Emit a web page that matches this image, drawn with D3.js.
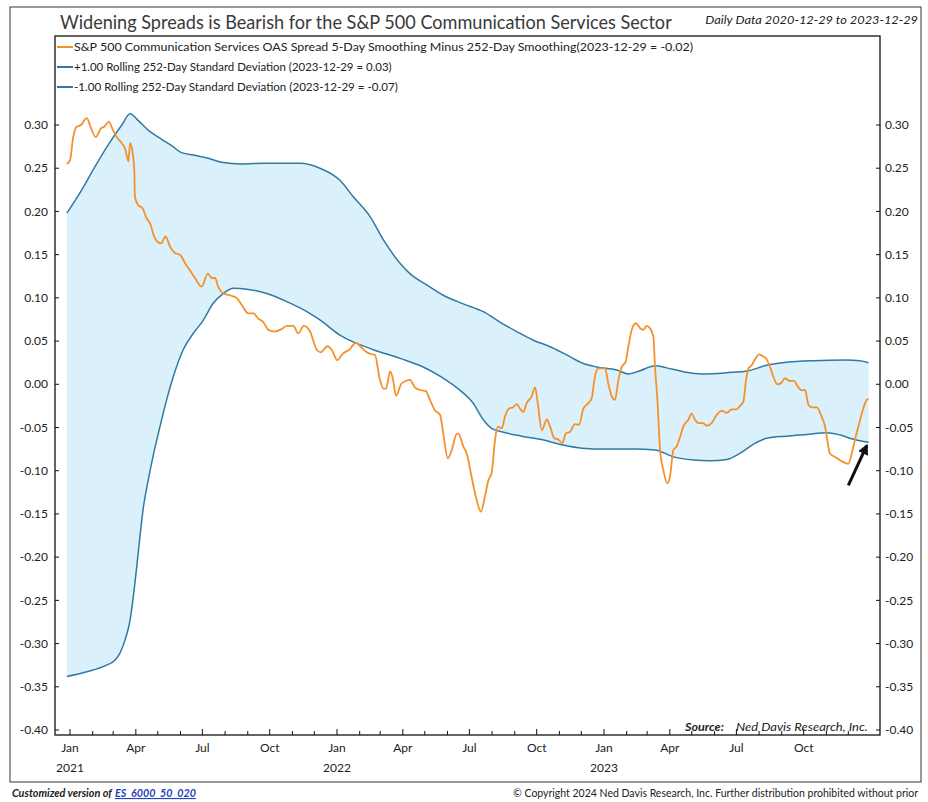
<!DOCTYPE html>
<html>
<head>
<meta charset="utf-8">
<script src="https://cdn.jsdelivr.net/npm/d3@7"></script>
<style>
body { margin: 0; background: #fff; }
svg { display: block; }
text { font-family: Lato, "Noto Sans", sans-serif; }
</style>
</head>
<body>
<div id="chart"></div>
<script>
// decimal year, value
var spread = [
  [2020.991, 0.255], [2021.000, 0.259], [2021.012, 0.286], [2021.025, 0.298], [2021.041, 0.300],
  [2021.063, 0.308], [2021.079, 0.296], [2021.096, 0.286], [2021.116, 0.296], [2021.128, 0.298],
  [2021.146, 0.304], [2021.158, 0.296], [2021.175, 0.286], [2021.194, 0.279], [2021.206, 0.273],
  [2021.219, 0.258], [2021.225, 0.279], [2021.233, 0.271], [2021.241, 0.246], [2021.243, 0.217],
  [2021.256, 0.207], [2021.271, 0.204], [2021.287, 0.192], [2021.300, 0.186], [2021.318, 0.169],
  [2021.341, 0.163], [2021.358, 0.171], [2021.375, 0.159], [2021.393, 0.152], [2021.412, 0.150],
  [2021.431, 0.140], [2021.449, 0.132], [2021.468, 0.123], [2021.493, 0.113], [2021.516, 0.128],
  [2021.531, 0.123], [2021.543, 0.123], [2021.555, 0.113], [2021.574, 0.105], [2021.599, 0.103],
  [2021.624, 0.100], [2021.643, 0.092], [2021.668, 0.082], [2021.687, 0.082], [2021.705, 0.076],
  [2021.724, 0.072], [2021.743, 0.063], [2021.768, 0.061], [2021.793, 0.064], [2021.812, 0.0675],
  [2021.836, 0.0675], [2021.855, 0.059], [2021.876, 0.0675], [2021.899, 0.061], [2021.924, 0.040],
  [2021.939, 0.037], [2021.964, 0.044], [2021.980, 0.040], [2022.001, 0.028], [2022.024, 0.036],
  [2022.046, 0.040], [2022.071, 0.048], [2022.093, 0.042], [2022.117, 0.036], [2022.142, 0.034],
  [2022.161, 0.005], [2022.174, -0.005], [2022.184, -0.005], [2022.199, 0.015], [2022.209, 0.007],
  [2022.221, -0.0135], [2022.242, 0.001], [2022.273, 0.005], [2022.292, -0.0035], [2022.311, -0.0066],
  [2022.333, -0.008], [2022.348, -0.018], [2022.367, -0.030], [2022.386, -0.0355], [2022.398, -0.057],
  [2022.415, -0.0856], [2022.430, -0.076], [2022.448, -0.0575], [2022.455, -0.057], [2022.473, -0.072],
  [2022.486, -0.080], [2022.504, -0.107], [2022.523, -0.134], [2022.539, -0.1474], [2022.554, -0.130],
  [2022.567, -0.111], [2022.579, -0.103], [2022.592, -0.064], [2022.602, -0.049], [2022.617, -0.051],
  [2022.629, -0.0375], [2022.644, -0.028], [2022.660, -0.0266], [2022.673, -0.023], [2022.685, -0.028],
  [2022.698, -0.032], [2022.710, -0.022], [2022.729, -0.014], [2022.742, -0.0035], [2022.752, -0.022],
  [2022.767, -0.053], [2022.786, -0.0405], [2022.798, -0.049], [2022.814, -0.0625], [2022.829, -0.064],
  [2022.844, -0.068], [2022.857, -0.057], [2022.873, -0.055], [2022.891, -0.046], [2022.906, -0.047],
  [2022.923, -0.028], [2022.941, -0.022], [2022.954, -0.016], [2022.966, 0.009], [2022.979, 0.0185],
  [2022.991, 0.0185], [2023.004, 0.0185], [2023.016, 0.001], [2023.029, -0.014], [2023.041, -0.018],
  [2023.054, 0.005], [2023.066, 0.020], [2023.081, 0.026], [2023.091, 0.0435], [2023.104, 0.063],
  [2023.119, 0.0706], [2023.135, 0.065], [2023.147, 0.063], [2023.160, 0.0675], [2023.172, 0.065],
  [2023.185, 0.055], [2023.191, 0.020], [2023.200, -0.018], [2023.210, -0.076], [2023.222, -0.099],
  [2023.237, -0.1146], [2023.247, -0.107], [2023.260, -0.076], [2023.272, -0.072], [2023.285, -0.061],
  [2023.297, -0.049], [2023.316, -0.041], [2023.328, -0.034], [2023.341, -0.041], [2023.353, -0.045],
  [2023.370, -0.045], [2023.385, -0.048], [2023.403, -0.045], [2023.422, -0.0355], [2023.441, -0.0305],
  [2023.460, -0.033], [2023.478, -0.029], [2023.497, -0.029], [2023.512, -0.024], [2023.522, -0.020],
  [2023.532, 0.005], [2023.541, 0.0185], [2023.553, 0.022], [2023.566, 0.029], [2023.581, 0.0347],
  [2023.597, 0.032], [2023.609, 0.029], [2023.622, 0.020], [2023.634, 0.009], [2023.649, 0.000],
  [2023.662, 0.001], [2023.678, 0.007], [2023.694, 0.004], [2023.712, 0.004], [2023.724, -0.002],
  [2023.741, -0.007], [2023.753, -0.0066], [2023.766, -0.024], [2023.778, -0.0266], [2023.797, -0.0266],
  [2023.815, -0.0375], [2023.828, -0.049], [2023.836, -0.064], [2023.846, -0.080], [2023.865, -0.084],
  [2023.884, -0.088], [2023.903, -0.091], [2023.915, -0.092], [2023.928, -0.080], [2023.940, -0.064],
  [2023.956, -0.045], [2023.969, -0.030], [2023.984, -0.018], [2023.991, -0.017]
];

var upperBand = [
  [2020.991, 0.198], [2021.044, 0.225], [2021.094, 0.252], [2021.143, 0.277], [2021.194, 0.300],
  [2021.225, 0.313], [2021.256, 0.305], [2021.293, 0.294], [2021.343, 0.2835], [2021.381, 0.276],
  [2021.418, 0.268], [2021.468, 0.265], [2021.518, 0.2615], [2021.568, 0.257], [2021.643, 0.255],
  [2021.730, 0.2557], [2021.861, 0.2557], [2021.936, 0.250], [2022.011, 0.236], [2022.061, 0.217],
  [2022.124, 0.194], [2022.174, 0.167], [2022.236, 0.140], [2022.273, 0.128], [2022.336, 0.115],
  [2022.398, 0.103], [2022.473, 0.093], [2022.548, 0.084], [2022.610, 0.072], [2022.673, 0.061],
  [2022.735, 0.051], [2022.798, 0.0435], [2022.860, 0.034], [2022.923, 0.024], [2022.973, 0.020],
  [2023.048, 0.0165], [2023.091, 0.012], [2023.135, 0.0157], [2023.191, 0.0215], [2023.235, 0.019],
  [2023.297, 0.0146], [2023.372, 0.012], [2023.460, 0.0134], [2023.541, 0.0157], [2023.609, 0.022],
  [2023.684, 0.0255], [2023.784, 0.0273], [2023.909, 0.028], [2023.958, 0.0273], [2023.991, 0.025]
];

var lowerBand = [
  [2020.991, -0.338], [2021.063, -0.3325], [2021.137, -0.325], [2021.169, -0.319], [2021.187, -0.311],
  [2021.206, -0.296], [2021.225, -0.273], [2021.237, -0.246], [2021.250, -0.211], [2021.262, -0.176],
  [2021.275, -0.142], [2021.293, -0.111], [2021.312, -0.082], [2021.337, -0.049], [2021.362, -0.018],
  [2021.387, 0.009], [2021.424, 0.040], [2021.462, 0.059], [2021.499, 0.074], [2021.537, 0.094],
  [2021.574, 0.105], [2021.612, 0.111], [2021.662, 0.110], [2021.737, 0.105], [2021.812, 0.0956],
  [2021.887, 0.084], [2021.936, 0.0744], [2022.011, 0.057], [2022.061, 0.049], [2022.136, 0.040],
  [2022.236, 0.030], [2022.323, 0.020], [2022.398, 0.007], [2022.461, -0.007], [2022.510, -0.022],
  [2022.548, -0.041], [2022.579, -0.051], [2022.617, -0.055], [2022.692, -0.060], [2022.767, -0.064],
  [2022.842, -0.070], [2022.917, -0.074], [2023.004, -0.075], [2023.116, -0.075], [2023.191, -0.076],
  [2023.260, -0.084], [2023.335, -0.0876], [2023.397, -0.0884], [2023.460, -0.087], [2023.509, -0.080],
  [2023.567, -0.068], [2023.609, -0.0625], [2023.684, -0.060], [2023.760, -0.058], [2023.835, -0.056],
  [2023.884, -0.0587], [2023.934, -0.0636], [2023.991, -0.067]
];

var yTicks = [0.30, 0.25, 0.20, 0.15, 0.10, 0.05, 0.00, -0.05, -0.10, -0.15, -0.20, -0.25, -0.30, -0.35, -0.40];
var quarterLabels = ['Jan', 'Apr', 'Jul', 'Oct'];
var yearLabels = [2021, 2022, 2023];
var legendLabels = [
  'S&P 500 Communication Services OAS Spread 5-Day Smoothing Minus 252-Day Smoothing(2023-12-29 = -0.02)',
  '+1.00 Rolling 252-Day Standard Deviation (2023-12-29 = 0.03)',
  '-1.00 Rolling 252-Day Standard Deviation (2023-12-29 = -0.07)'
];
var arrowFrom = [2023.915, -0.117];
var arrowTo = [2023.984, -0.071];

var ORANGE = '#f5902a';
var BLUE = '#2f7aa3';
var FILL = '#daf0fb';
var INK = '#222';

function toDate(t) {
  var y = Math.floor(t);
  return new Date(Date.UTC(y, 0, 1) + (t - y) * 365 * 86400000);
}

function fmt(v) {
  var s = Math.abs(v).toFixed(2);
  return (v < -0.001 ? '-' : '') + s;
}

// squeeze a text horizontally so it spans `width` px from its anchor
function fitText(sel, x, y, width) {
  sel.attr('x', 0).attr('y', 0);
  var w = sel.node().getComputedTextLength();
  var k = w > 0 ? width / w : 1;
  sel.attr('transform', 'translate(' + x + ',' + y + ') scale(' + k + ',1)');
  return sel;
}

function init() {
  var W = 928, H = 802;
  var left = 55, right = 880, top = 36, bottom = 735;

  var svg = d3.select('#chart').append('svg')
    .attr('width', W).attr('height', H);

  var x = d3.scaleUtc()
    .domain([new Date(Date.UTC(2021, 0, 1)), new Date(Date.UTC(2023, 0, 1))])
    .range([70, 604]);
  var y = d3.scaleLinear().domain([0.30, -0.40]).range([125, 730]);

  // outer frame
  svg.append('rect').attr('x', 10).attr('y', 7).attr('width', 911).attr('height', 775)
    .attr('fill', 'none').attr('stroke', '#333').attr('stroke-width', 1);

  fitText(svg.append('text').attr('font-size', 20).attr('fill', '#3a3a3a')
    .text('Widening Spreads is Bearish for the S&P 500 Communication Services Sector'), 60, 29, 612);
  fitText(svg.append('text').attr('text-anchor', 'end')
    .attr('font-size', 12).attr('font-style', 'italic').attr('fill', INK)
    .text('Daily Data 2020-12-29 to 2023-12-29'), 918, 24, 213);

  svg.append('clipPath').attr('id', 'plotclip')
    .append('rect').attr('x', left).attr('y', top).attr('width', right - left).attr('height', bottom - top);

  var g = svg.append('g').attr('clip-path', 'url(#plotclip)');

  var line = d3.line()
    .x(function (d) { return x(toDate(d[0])); })
    .y(function (d) { return y(d[1]); })
    .curve(d3.curveMonotoneX);

  // band fill: upper forward, lower back
  var bandPts = upperBand.concat(lowerBand.slice().reverse());
  g.append('path')
    .attr('d', d3.line()
      .x(function (d) { return x(toDate(d[0])); })
      .y(function (d) { return y(d[1]); })
      .curve(d3.curveLinearClosed)(bandPts))
    .attr('fill', FILL).attr('stroke', 'none');

  g.append('path').attr('d', line(upperBand)).attr('fill', 'none')
    .attr('stroke', BLUE).attr('stroke-width', 1.5);
  g.append('path').attr('d', line(lowerBand)).attr('fill', 'none')
    .attr('stroke', BLUE).attr('stroke-width', 1.5);
  g.append('path').attr('d', line(spread)).attr('fill', 'none')
    .attr('stroke', ORANGE).attr('stroke-width', 1.8).attr('stroke-linejoin', 'round');

  // plot frame
  svg.append('rect').attr('x', left).attr('y', top).attr('width', right - left).attr('height', bottom - top)
    .attr('fill', 'none').attr('stroke', '#111').attr('stroke-width', 1.3);

  // legend
  var legendColors = [ORANGE, BLUE, BLUE];
  var legendWidths = [620, 318, 324];
  legendLabels.forEach(function (lab, i) {
    var ly = 47 + i * 20;
    svg.append('line').attr('x1', 57).attr('x2', 73).attr('y1', ly).attr('y2', ly)
      .attr('stroke', legendColors[i]).attr('stroke-width', 2);
    fitText(svg.append('text').attr('font-size', 12).attr('fill', INK).text(lab), 74, ly + 4, legendWidths[i]);
  });

  // y axes (ticks inward)
  yTicks.forEach(function (v) {
    var yy = y(v);
    svg.append('line').attr('x1', left).attr('x2', left + 4).attr('y1', yy).attr('y2', yy)
      .attr('stroke', '#111');
    svg.append('line').attr('x1', right - 4).attr('x2', right).attr('y1', yy).attr('y2', yy)
      .attr('stroke', '#111');
    svg.append('text').attr('x', 48).attr('y', yy).attr('dy', '0.35em').attr('text-anchor', 'end')
      .attr('font-size', 12).attr('fill', INK).text(fmt(v));
    svg.append('text').attr('x', 885).attr('y', yy).attr('dy', '0.35em').attr('text-anchor', 'start')
      .attr('font-size', 12).attr('fill', INK).text(fmt(v));
  });

  // x axis: monthly ticks, quarter labels
  var months = d3.utcMonth.range(new Date(Date.UTC(2021, 0, 1)), new Date(Date.UTC(2024, 0, 1)));
  months.forEach(function (m) {
    var xx = x(m);
    var q = m.getUTCMonth() % 3 === 0;
    svg.append('line').attr('x1', xx).attr('x2', xx).attr('y1', bottom).attr('y2', bottom - (q ? 6 : 4))
      .attr('stroke', '#111');
    if (q) {
      svg.append('text').attr('x', xx).attr('y', 752).attr('text-anchor', 'middle')
        .attr('font-size', 12).attr('fill', INK).text(quarterLabels[m.getUTCMonth() / 3]);
    }
  });
  yearLabels.forEach(function (yr) {
    svg.append('text').attr('x', x(new Date(Date.UTC(yr, 0, 1)))).attr('y', 772)
      .attr('text-anchor', 'middle').attr('font-size', 12).attr('fill', INK).text(yr);
  });

  // source
  fitText(svg.append('text').attr('font-size', 12)
    .attr('font-style', 'italic').attr('font-weight', 'bold').attr('fill', INK)
    .text('Source:'), 685, 731, 39);
  fitText(svg.append('text').attr('font-size', 12)
    .attr('font-style', 'italic').attr('fill', INK)
    .text('Ned Davis Research, Inc.'), 736, 731, 132);

  // arrow
  svg.append('defs').append('marker').attr('id', 'head')
    .attr('viewBox', '0 0 10 10').attr('refX', 8).attr('refY', 5)
    .attr('markerWidth', 3.6).attr('markerHeight', 3.6).attr('orient', 'auto')
    .append('path').attr('d', 'M0,0L10,5L0,10z').attr('fill', '#111');
  svg.append('line')
    .attr('x1', x(toDate(arrowFrom[0]))).attr('y1', y(arrowFrom[1]))
    .attr('x2', x(toDate(arrowTo[0]))).attr('y2', y(arrowTo[1]))
    .attr('stroke', '#111').attr('stroke-width', 3).attr('marker-end', 'url(#head)');

  // footer
  fitText(svg.append('text').attr('font-size', 11)
    .attr('font-style', 'italic').attr('font-weight', 'bold').attr('fill', INK)
    .text('Customized version of'), 12, 797, 100);
  fitText(svg.append('text').attr('font-size', 11)
    .attr('font-style', 'italic').attr('font-weight', 'bold').attr('fill', '#1f3fbf')
    .attr('text-decoration', 'underline')
    .text('ES_6000_50_020'), 115, 797, 81);
  fitText(svg.append('text').attr('text-anchor', 'end').attr('font-size', 11).attr('fill', INK)
    .text('\u00a9 Copyright 2024 Ned Davis Research, Inc. Further distribution prohibited without prior'), 918, 797, 405);
}

window.onload = init;
</script>
</body>
</html>
